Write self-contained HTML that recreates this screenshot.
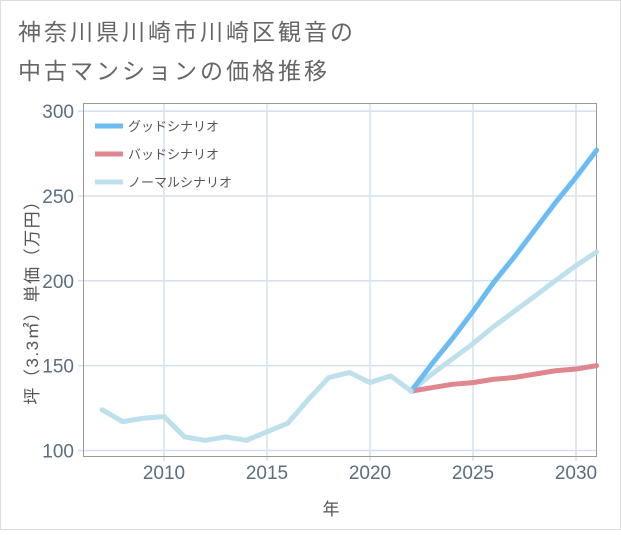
<!DOCTYPE html>
<html><head><meta charset="utf-8"><style>
body{margin:0;background:#fff;}
#wrap{position:relative;width:621px;height:530px;font-family:"Liberation Sans","Noto Sans CJK JP",sans-serif;}
</style></head><body>
<div id="wrap">
<svg id="chart" width="621" height="530">
<rect x="0.5" y="0.5" width="620" height="529" fill="#fff" stroke="#ddd"/>
<text x="18" y="40" font-size="23" letter-spacing="3" fill="#666">神奈川県川崎市川崎区観音の</text>
<text x="18" y="79" font-size="23" letter-spacing="3" fill="#666">中古マンションの価格推移</text>
<g id="grid"></g>
<rect x="83.5" y="103.5" width="513" height="353" fill="none" stroke="#999"/>
<g id="ticks"></g>
<g id="series"></g>
<text x="331" y="515" font-size="17" fill="#555" text-anchor="middle">年</text>
<text transform="translate(38,298) rotate(-90)" font-size="17" letter-spacing="1.5" fill="#555" text-anchor="middle">坪（3.3㎡）単価（万円）</text>
<g>
<line x1="95" y1="126" x2="123" y2="126" stroke="#6bbcf5" stroke-width="5"/>
<text x="128" y="131" font-size="13" fill="#555">グッドシナリオ</text>
<line x1="95" y1="154" x2="123" y2="154" stroke="#e0868f" stroke-width="5"/>
<text x="128" y="159" font-size="13" fill="#555">バッドシナリオ</text>
<line x1="95" y1="182" x2="123" y2="182" stroke="#bde0ec" stroke-width="5"/>
<text x="128" y="187" font-size="13" fill="#555">ノーマルシナリオ</text>
</g>
</svg>
</div>
<script>
const historyYears=[2007,2008,2009,2010,2011,2012,2013,2014,2015,2016,2017,2018,2019,2020,2021,2022];
const historyValues=[124,117,119,120,108,106,108,106,111,116,130,143,146,140,144,135];
const forecastYears=[2022,2023,2024,2025,2026,2027,2028,2029,2030,2031];
const goodValues=[135,151,166,182,199,214,230,246,261,277];
const normalValues=[135,145,154,163,173,182,191,200,209,217];
const badValues=[135,137,139,140,142,143,145,147,148,150];
const yTicks=[100,150,200,250,300];
const xTicks=[2010,2015,2020,2025,2030];
const NS='http://www.w3.org/2000/svg';
function xs(y){return 164+(y-2010)*20.6;}
function ys(v){return 450.5-(v-100)*1.697;}
const grid=document.getElementById('grid'),ticks=document.getElementById('ticks'),series=document.getElementById('series');
function mk(t,a,p){const e=document.createElementNS(NS,t);for(const k in a)e.setAttribute(k,a[k]);p.appendChild(e);return e;}
yTicks.forEach(v=>{
 const l=mk('line',{x1:78,x2:597,y1:ys(v),y2:ys(v),stroke:'#d5e1ec','stroke-width':1.5},grid);
 
 
 const t=mk('text',{x:74,y:ys(v)+7,'font-size':19,fill:'#5a6e80','text-anchor':'end'},ticks);t.textContent=v;
 
 
});
xTicks.forEach(v=>{
 const l=mk('line',{x1:xs(v),x2:xs(v),y1:104,y2:461,stroke:'#d5e1ec','stroke-width':1.5},grid);
 
 
 const t=mk('text',{x:xs(v),y:479,'font-size':19,fill:'#5a6e80','text-anchor':'middle'},ticks);t.textContent=v;
 
 
});
function line(xsArr,vals,col,name){
 const d=vals.map((v,i)=>(i?'L':'M')+xs(xsArr[i])+','+ys(v)).join(' ');
 const p=mk('path',{d:d,fill:'none',stroke:col,'stroke-width':5,'stroke-linejoin':'round','stroke-linecap':'round'},series);
 
 
}
line(forecastYears,normalValues,'#bde0ec','normal-scenario-line');
line(forecastYears,badValues,'#e0868f','bad-scenario-line');
line(forecastYears,goodValues,'#6bbcf5','good-scenario-line');
line(historyYears,historyValues,'#bde0ec','history-line');
</script>
</body></html>
